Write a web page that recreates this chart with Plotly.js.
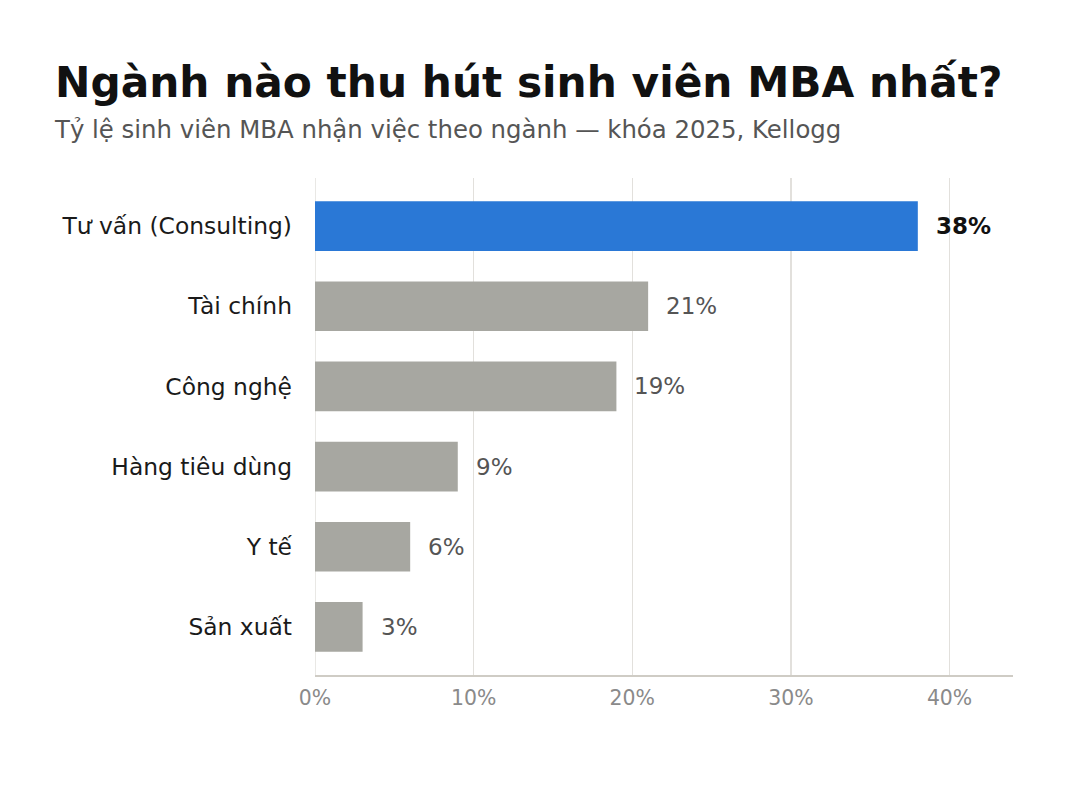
<!DOCTYPE html>
<html>
<head>
<meta charset="utf-8">
<script src="https://cdn.plot.ly/plotly-3.0.1.min.js"></script>
<style>html,body{margin:0;padding:0;background:#fff;}#chart{width:1087px;height:803px;}</style>
</head>
<body>
<div id="chart"></div>
<script>
const categories = ["Tư vấn (Consulting)", "Tài chính", "Công nghệ", "Hàng tiêu dùng", "Y tế", "Sản xuất"];
const values = [38, 21, 19, 9, 6, 3];
const highlight = "Tư vấn (Consulting)";
const titleText = "Ngành nào thu hút sinh viên MBA nhất?";
const subtitleText = "Tỷ lệ sinh viên MBA nhận việc theo ngành — khóa 2025, Kellogg";
const tickVals = [0, 10, 20, 30, 40];
const tickText = ["0%", "10%", "20%", "30%", "40%"];

const FONT = "DejaVu Sans, sans-serif";
const colors = categories.map(c => c === highlight ? "#2a78d6" : "#a7a7a1");

const trace = {
  type: "bar",
  orientation: "h",
  x: values,
  y: categories,
  marker: {color: colors, line: {width: 0}},
  width: 0.62,
  hoverinfo: "skip"
};

const annotations = categories.map((c, i) => ({
  x: values[i], y: c, xref: "x", yref: "y",
  text: c === highlight ? "<b>" + values[i] + "%</b>" : values[i] + "%",
  showarrow: false, xanchor: "left", xshift: 16,
  font: {family: FONT, size: 23, color: c === highlight ? "#111111" : "#555555"}
}));

annotations.push({
  x: 0, y: 1.0966, xref: "paper", yref: "paper",
  text: subtitleText, showarrow: false, xanchor: "left", yanchor: "middle",
  xshift: -263,
  font: {family: FONT, size: 24.4, color: "#555555"}
});

const layout = {
  width: 1087, height: 803,
  paper_bgcolor: "#ffffff", plot_bgcolor: "#ffffff",
  margin: {l: 315, r: 74, t: 178, b: 128},
  showlegend: false,
  title: {
    text: "<b>" + titleText + "</b>",
    x: 55 / 1087, xanchor: "left", xref: "container",
    y: 1 - 82 / 803, yanchor: "middle", yref: "container",
    font: {family: FONT, size: 42.3, color: "#111111"}
  },
  xaxis: {
    range: [0, 44], tickvals: tickVals, ticktext: tickText,
    showgrid: true, gridcolor: "#e2e0dc", gridwidth: 1.5,
    zeroline: false, showline: true, linecolor: "#cfccc5", linewidth: 1.5,
    ticks: "", tickfont: {family: FONT, size: 20.4, color: "#8a8a8a"},
    ticklabelstandoff: 4, fixedrange: true
  },
  yaxis: {
    type: "category", categoryorder: "array", categoryarray: categories,
    range: [5.6, -0.6],
    showgrid: false, zeroline: false, showline: false, ticks: "",
    tickfont: {family: FONT, size: 23.4, color: "#1a1a1a"},
    ticklabelstandoff: 22, fixedrange: true
  },
  annotations: annotations,
  shapes: [{
    type: "line", xref: "x", yref: "paper", x0: 0, x1: 0, y0: 0, y1: 1,
    line: {color: "#e2e0dc", width: 1.5}, layer: "below"
  }]
};

Plotly.newPlot("chart", [trace], layout, {displayModeBar: false, staticPlot: true});
</script>
</body>
</html>
